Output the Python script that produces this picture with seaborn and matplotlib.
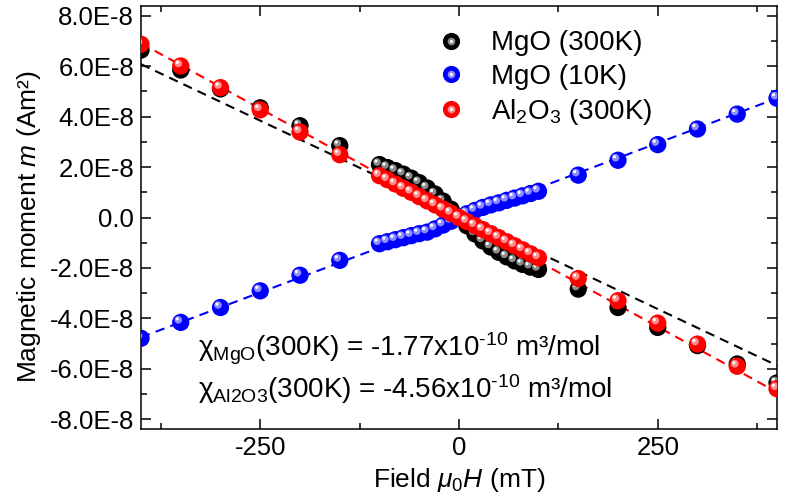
import numpy as np
import pandas as pd
import matplotlib
matplotlib.use("Agg")
import matplotlib.pyplot as plt
import seaborn as sns
from matplotlib.lines import Line2D
from matplotlib.legend_handler import HandlerTuple
from matplotlib.transforms import offset_copy
from matplotlib.ticker import MultipleLocator, FuncFormatter

# ---------------- data (moment in units of 1E-8 Am^2) ----------------
field_mT = [-400, -350, -300, -250, -200, -150,
            -100, -90, -80, -70, -60, -50, -40, -30, -20, -10, 0,
            10, 20, 30, 40, 50, 60, 70, 80, 90, 100,
            150, 200, 250, 300, 350, 400]

mgo_300K = [6.64, 5.85, 5.10, 4.35, 3.64, 2.85,
            2.10, 1.98, 1.86, 1.72, 1.56, 1.38, 1.17, 0.93, 0.65, 0.33, 0.00,
            -0.33, -0.65, -0.93, -1.17, -1.38, -1.56, -1.72, -1.86, -1.97, -2.06,
            -2.84, -3.57, -4.36, -5.08, -5.81, -6.56]

mgo_10K = [-4.79, -4.16, -3.57, -2.91, -2.29, -1.70,
           -1.04, -0.96, -0.88, -0.80, -0.72, -0.64, -0.58, -0.45, -0.30, -0.15, 0.00,
           0.15, 0.28, 0.40, 0.50, 0.58, 0.68, 0.77, 0.86, 0.95, 1.04,
           1.68, 2.27, 2.89, 3.51, 4.10, 4.73]

al2o3_300K = [6.87, 6.01, 5.15, 4.27, 3.39, 2.49,
              1.66, 1.50, 1.33, 1.16, 1.00, 0.83, 0.66, 0.50, 0.33, 0.17, 0.00,
              -0.16, -0.32, -0.48, -0.64, -0.80, -0.96, -1.12, -1.28, -1.44, -1.60,
              -2.42, -3.30, -4.19, -5.02, -5.90, -6.79]

# linear fits (slope in 1E-8 Am^2 per mT, intercept in 1E-8 Am^2)
fit_slope = {"MgO (300K)": -0.01494, "MgO (10K)": 0.01185, "Al2O3 (300K)": -0.01730}
fit_icpt = {"MgO (300K)": 0.105, "MgO (10K)": -0.01, "Al2O3 (300K)": -0.01}

series_names = ["MgO (300K)", "MgO (10K)", "Al2O3 (300K)"]
legend_labels = ["MgO (300K)", "MgO (10K)", r"Al$_2$O$_3$ (300K)"]
series_values = [mgo_300K, mgo_10K, al2o3_300K]

y_ticks_e8 = [-8, -6, -4, -2, 0, 2, 4, 6, 8]
x_ticks = [-250, 0, 250]

chi_texts = ["$\\mathrm{\\chi}_{\\mathrm{MgO}}$(300K) = -1.77x10$^{\\mathrm{\u2010 10}}$ m³/mol",
             "$\\mathrm{\\chi}_{\\mathrm{Al2O3}}$(300K) = -4.56x10$^{\\mathrm{\u2010 10}}$ m³/mol"]

UNIT = 1e-8

# ---------------- style ----------------
sns.set_style("ticks")
plt.rcParams["font.family"] = ["Liberation Sans", "DejaVu Sans"]
plt.rcParams["mathtext.fontset"] = "custom"
plt.rcParams["mathtext.rm"] = "Liberation Sans"
plt.rcParams["mathtext.it"] = "Liberation Sans:italic"
plt.rcParams["mathtext.bf"] = "Liberation Sans:bold"
plt.rcParams["axes.linewidth"] = 1.1
plt.rcParams["axes.unicode_minus"] = False
for k in ["text.color", "axes.labelcolor", "xtick.color", "ytick.color", "axes.edgecolor"]:
    plt.rcParams[k] = "black"

colors = {"MgO (300K)": ("#000000", "#8a8a8a"),
          "MgO (10K)": ("#0000ff", "#8c8cff"),
          "Al2O3 (300K)": ("#ff0000", "#ff8c8c")}

fig = plt.figure(figsize=(8.01, 5.03), dpi=100)
ax = fig.add_axes([141 / 801, 1 - 429.3 / 503, 636 / 801, 423.6 / 503])

rows = []
for name, vals in zip(series_names, series_values):
    for h, v in zip(field_mT, vals):
        rows.append({"field": h, "m": v * UNIT, "series": name})
df = pd.DataFrame(rows)

# fit lines
xfit = np.array([min(field_mT), max(field_mT)], dtype=float)
for name in series_names:
    yfit = (fit_slope[name] * xfit + fit_icpt[name]) * UNIT
    sns.lineplot(x=xfit, y=yfit, ax=ax, color=colors[name][0], lw=1.5,
                 linestyle=(0, (4.5, 3)), zorder=2)

hl_trans = offset_copy(ax.transData, fig=fig, x=-2.5, y=2.5, units="dots")
spot_trans = offset_copy(ax.transData, fig=fig, x=-3.5, y=3.5, units="dots")

z = 3
for name in series_names:
    base, mid = colors[name]
    sub = df[df["series"] == name]
    sns.scatterplot(data=sub, x="field", y="m", ax=ax, color=base, s=155,
                    linewidth=0, edgecolor="none", zorder=z, legend=False)
    sns.scatterplot(data=sub, x="field", y="m", ax=ax, color=mid, s=30,
                    linewidth=0, edgecolor="none", zorder=z + 0.1, legend=False,
                    transform=hl_trans)
    sns.scatterplot(data=sub, x="field", y="m", ax=ax, color="white", s=5,
                    linewidth=0, edgecolor="none", zorder=z + 0.2, legend=False,
                    transform=spot_trans)
    z += 1

ax.set_xlim(-400, 400)
ax.set_ylim(-8.4 * UNIT, 8.4 * UNIT)
ax.set_xticks(x_ticks)
ax.xaxis.set_minor_locator(MultipleLocator(125))
ax.set_yticks([t * UNIT for t in y_ticks_e8])
ax.yaxis.set_minor_locator(MultipleLocator(1 * UNIT))


def yfmt(v, pos):
    e = v / UNIT
    if abs(e) < 1e-9:
        return "0.0"
    return f"{e:.1f}E-8"


ax.yaxis.set_major_formatter(FuncFormatter(yfmt))
ax.tick_params(which="both", direction="in", top=True, right=True, width=1.1)
ax.tick_params(which="major", length=7, labelsize=18.5, pad=5)
ax.tick_params(which="minor", length=4)

ax.set_xlabel(r"Field $\mathit{\mu}_{\mathit{0}}\mathit{H}$ (mT)", fontsize=19)
ax.set_ylabel(r"Magnetic moment $\mathit{m}$ (Am²)", fontsize=19)
ax.yaxis.set_label_coords(-0.154, 0.478)
ax.xaxis.labelpad = 4

# legend
handles = []
for name in series_names:
    base, mid = colors[name]
    h1 = Line2D([], [], marker="o", ls="none", color=base, markersize=12.4, markeredgewidth=0)
    h2 = Line2D([], [], marker="o", ls="none", color=mid, markersize=5.5, markeredgewidth=0)
    h3 = Line2D([], [], marker="o", ls="none", color="white", markersize=2.2, markeredgewidth=0)
    handles.append((h1, h2, h3))
ax.legend(handles, legend_labels, handler_map={tuple: HandlerTuple(ndivide=1, pad=0)},
          loc="upper left", bbox_to_anchor=(0.444, 0.968), frameon=False,
          fontsize=20, handlelength=1.2, handletextpad=0.84, labelspacing=0.26,
          borderaxespad=0)

for i, t in enumerate(chi_texts):
    ax.text(0.0896, [0.171, 0.074][i], t, transform=ax.transAxes, fontsize=20,
            va="baseline", ha="left")

fig.savefig("out.png", dpi=100)
